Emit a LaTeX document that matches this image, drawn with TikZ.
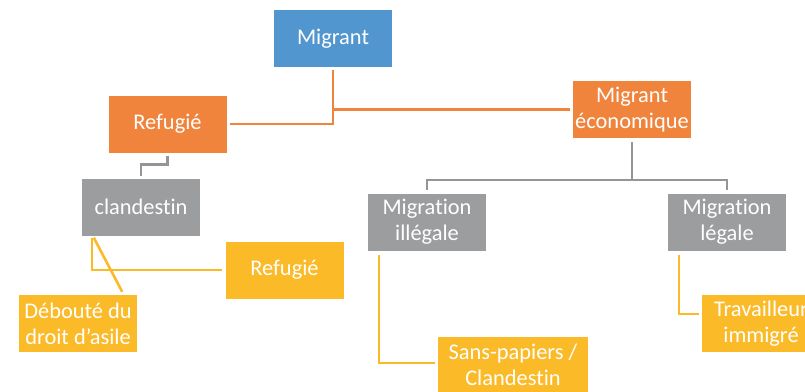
\documentclass[tikz,border=0pt]{standalone}
\usepackage{fontspec}
\setmainfont{Carlito}[Ligatures={NoCommon,NoRare,NoContextual}]
\definecolor{cblue}{RGB}{82,150,208}
\definecolor{corange}{RGB}{240,132,60}
\definecolor{cgrey}{RGB}{155,157,158}
\definecolor{cyellow}{RGB}{251,186,40}
\tikzset{
  boxbase/.style={rectangle, inner sep=0pt, minimum width=118pt, minimum height=57pt,
    align=center, text=white,
    font=\fontsize{22.4}{26}\selectfont},
  bluebox/.style={boxbase, fill=cblue},
  orangebox/.style={boxbase, fill=corange},
  greybox/.style={boxbase, fill=cgrey},
  yellowbox/.style={boxbase, fill=cyellow},
  oline/.style={draw=corange, line width=2.6pt},
  gline/.style={draw=cgrey!95!black, line width=2.6pt},
  yline/.style={draw=cyellow, line width=2.6pt},
}
\begin{document}
\begin{tikzpicture}[x=1pt,y=-1pt]
\clip (0,0) rectangle (805,391);
\fill[white] (0,0) rectangle (805,391);
\node[bluebox]   (mig) at (333,38.5) {Migrant};
\node[orangebox] (ref) at (167.5,124) {Refugié};
\node[orangebox] (me)  at (632,109.5) {Migrant\\économique};
\node[greybox]   (cl)  at (141,207) {clandestin};
\node[greybox]   (mi)  at (427,222) {Migration\\illégale};
\node[greybox]   (ml)  at (727,222) {Migration\\légale};
\node[yellowbox] (ry)  at (284.5,270) {Refugié};
\node[yellowbox] (deb) at (78,323.5) {Débouté du\\droit d’asile};
\node[yellowbox, minimum width=150pt] (sp) at (513,365) {Sans-papiers /\\Clandestin};
\node[yellowbox] (tr)  at (761,323.5) {Travailleur\\immigré};
\coordinate (bus) at (632,180);
% orange connectors
\draw[oline] ([yshift=-3pt]mig.south) |- ([xshift=3pt]ref.east);
\draw[oline] (mig.south |- me.west) -- ([xshift=-3pt]me.west);
% grey connectors
\draw[gline] ([yshift=-4pt]me.south) -- (bus);
\draw[gline] ([yshift=3pt]mi.north) -- (mi.north |- bus) -- (ml.north |- bus) -- ([yshift=3pt]ml.north);
\draw[gline] ([yshift=-3pt]ref.south) -- ++(0,9) -| ([yshift=2pt]cl.north);
% yellow connectors
\draw[yline] ([xshift=10pt,yshift=-2pt]cl.south west) |- ([xshift=-3pt]ry.west);
\draw[yline] ([xshift=12pt,yshift=-2pt]cl.south west) -- ([xshift=-15pt,yshift=3pt]deb.north east);
\draw[yline] ([xshift=11pt,yshift=-4pt]mi.south west) |- ([xshift=-3pt,yshift=2pt]sp.west);
\draw[yline] ([xshift=11pt,yshift=-4pt]ml.south west) |- ([xshift=-3pt,yshift=9.5pt]tr.west);
\end{tikzpicture}
\end{document}
